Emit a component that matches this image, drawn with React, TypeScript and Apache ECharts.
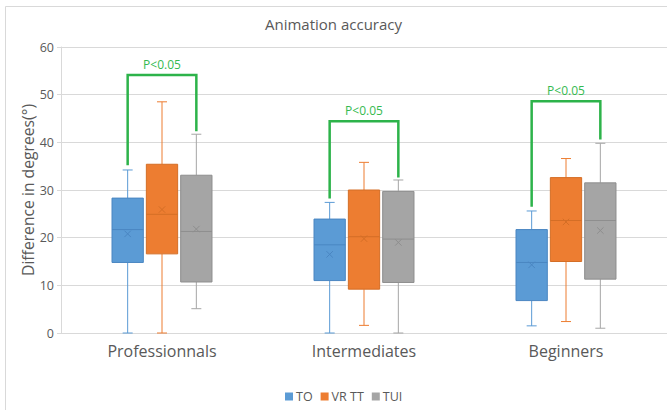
import React, { useEffect, useRef } from "react";
import * as echarts from "echarts";

const categories = ["Professionnals", "Intermediates", "Beginners"];
const seriesNames = ["TO", "VR TT", "TUI"];
const seriesColors = ["#5B9BD5", "#ED7D31", "#A5A5A5"];
const seriesDark = ["#4A86C2", "#D46E26", "#8E8E8E"];

// [whiskerLow, q1, median, q3, whiskerHigh] per category
const toBoxes = [
  [0, 14.8, 21.7, 28.3, 34.2],
  [0, 11.0, 18.5, 23.9, 27.4],
  [1.5, 6.8, 14.8, 21.7, 25.6],
];
const toMeans = [20.8, 16.5, 14.3];

const vrBoxes = [
  [0, 16.6, 24.9, 35.4, 48.5],
  [1.6, 9.2, 20.2, 30.0, 35.8],
  [2.4, 15.0, 23.6, 32.6, 36.6],
];
const vrMeans = [25.9, 19.8, 23.3];

const tuiBoxes = [
  [5.1, 10.7, 21.3, 33.1, 41.7],
  [0, 10.6, 19.7, 29.7, 32.1],
  [1.0, 11.3, 23.6, 31.5, 39.8],
];
const tuiMeans = [21.8, 19.0, 21.5];

// significance brackets: [leftLegEnd, rightLegEnd, top]
const bracketLeft = [35.2, 28.2, 26.5];
const bracketRight = [42.3, 32.6, 40.6];
const bracketTop = [54.1, 44.4, 48.6];
const pLabels = ["P<0.05", "P<0.05", "P<0.05"];

const yTicks = { min: 0, max: 60, interval: 10 };

const FONT = "Open Sans";
const OFFSET_FRAC = 0.17;
const BOX_FRAC = 0.155;
const CAP_W = 10;

export default function App() {
  const ref = useRef<HTMLDivElement>(null);

  useEffect(() => {
    if (!ref.current) return;
    const chart = echarts.init(ref.current, null, { renderer: "svg" });

    const allBoxes = [toBoxes, vrBoxes, tuiBoxes];
    const allMeans = [toMeans, vrMeans, tuiMeans];
    const offsets = [-OFFSET_FRAC, 0, OFFSET_FRAC];

    const boxSeries = seriesNames.map((name, si) => ({
      name,
      type: "custom",
      itemStyle: { color: seriesColors[si] },
      encode: { x: 0, y: [1, 2, 3, 4, 5, 6] },
      data: categories.map((_, ci) => [ci, ...allBoxes[si][ci], allMeans[si][ci]]),
      renderItem: (params: any, api: any) => {
        const cat = api.value(0);
        const bandW = api.size([1, 0])[0];
        const cx = api.coord([cat, 0])[0] + offsets[si] * bandW;
        const y = (v: number) => api.coord([cat, v])[1];
        const lo = y(api.value(1));
        const q1 = y(api.value(2));
        const med = y(api.value(3));
        const q3 = y(api.value(4));
        const hi = y(api.value(5));
        const mean = y(api.value(6));
        const hw = (BOX_FRAC * bandW) / 2;
        const col = seriesColors[si];
        const dark = seriesDark[si];
        const m = 3.2;
        return {
          type: "group",
          children: [
            { type: "line", shape: { x1: cx, y1: q3, x2: cx, y2: hi }, style: { stroke: col, lineWidth: 1 } },
            { type: "line", shape: { x1: cx, y1: q1, x2: cx, y2: lo }, style: { stroke: col, lineWidth: 1 } },
            { type: "line", shape: { x1: cx - CAP_W / 2, y1: hi, x2: cx + CAP_W / 2, y2: hi }, style: { stroke: col, lineWidth: 1 } },
            { type: "line", shape: { x1: cx - CAP_W / 2, y1: lo, x2: cx + CAP_W / 2, y2: lo }, style: { stroke: col, lineWidth: 1 } },
            { type: "rect", shape: { x: cx - hw, y: q3, width: hw * 2, height: q1 - q3 }, style: { fill: col, stroke: dark, lineWidth: 1 } },
            { type: "line", shape: { x1: cx - hw, y1: med, x2: cx + hw, y2: med }, style: { stroke: dark, lineWidth: 1 } },
            { type: "line", shape: { x1: cx - m, y1: mean - m, x2: cx + m, y2: mean + m }, style: { stroke: dark, lineWidth: 1 } },
            { type: "line", shape: { x1: cx - m, y1: mean + m, x2: cx + m, y2: mean - m }, style: { stroke: dark, lineWidth: 1 } },
          ],
        };
      },
    }));

    const bracketSeries = {
      name: "brackets",
      type: "custom",
      z: 5,
      encode: { x: 0, y: [1, 2, 3] },
      data: categories.map((_, ci) => [ci, bracketLeft[ci], bracketRight[ci], bracketTop[ci]]),
      renderItem: (params: any, api: any) => {
        const cat = api.value(0);
        const bandW = api.size([1, 0])[0];
        const c = api.coord([cat, 0])[0];
        const xl = c - OFFSET_FRAC * bandW;
        const xr = c + OFFSET_FRAC * bandW;
        const y = (v: number) => api.coord([cat, v])[1];
        const yl = y(api.value(1));
        const yr = y(api.value(2));
        const yt = y(api.value(3));
        return {
          type: "group",
          children: [
            {
              type: "polyline",
              shape: { points: [[xl, yl], [xl, yt], [xr, yt], [xr, yr]] },
              style: { stroke: "#2DB34A", lineWidth: 2.5, fill: null },
            },
            {
              type: "text",
              x: c,
              y: yt - 11,
              style: {
                text: pLabels[params.dataIndex],
                fill: "#35BA50",
                font: `12px "${FONT}"`,
                align: "center",
                verticalAlign: "middle",
              },
            },
          ],
        };
      },
    };

    chart.setOption({
      animation: false,
      textStyle: { fontFamily: FONT },
      title: {
        text: "Animation accuracy",
        left: "center",
        top: 11,
        textStyle: { fontFamily: FONT, fontSize: 15, fontWeight: "normal", color: "#595959" },
      },
      graphic: [
        {
          type: "polyline",
          shape: { points: [[5.5, 420], [5.5, 6.5], [680, 6.5]] },
          style: { fill: null, stroke: "#D9D9D9", lineWidth: 1 },
          silent: true,
        },
      ],
      legend: {
        data: seriesNames,
        top: 385,
        left: 280,
        icon: "rect",
        itemWidth: 8,
        itemHeight: 8,
        itemGap: 8,
        textStyle: { fontFamily: FONT, fontSize: 12.5, color: "#595959", padding: [0, 0, 0, -2] },
      },
      grid: { left: 61, top: 47, right: 0, height: 286 },
      xAxis: {
        type: "category",
        data: categories,
        axisLine: { lineStyle: { color: "#D9D9D9" } },
        axisTick: { show: false },
        axisLabel: { fontFamily: FONT, fontSize: 16, color: "#595959", margin: 10 },
        splitLine: { show: false },
      },
      yAxis: {
        type: "value",
        min: yTicks.min,
        max: yTicks.max,
        interval: yTicks.interval,
        name: "Difference in degrees(°)",
        nameLocation: "middle",
        nameGap: 25,
        nameMoveOverlap: false,
        nameTextStyle: { fontFamily: FONT, fontSize: 15.7, color: "#595959" },
        axisLine: { show: true, lineStyle: { color: "#D9D9D9" } },
        axisTick: { show: true, length: 4, lineStyle: { color: "#D9D9D9" } },
        axisLabel: { fontFamily: FONT, fontSize: 12.5, color: "#595959", margin: 7 },
        splitLine: { lineStyle: { color: "#D9D9D9" } },
      },
      series: [...boxSeries, bracketSeries],
    });

    return () => chart.dispose();
  }, []);

  return (
    <div
      ref={ref}
      style={{ position: "fixed", left: 0, top: 0, width: 667, height: 410, background: "#fff" }}
    />
  );
}
